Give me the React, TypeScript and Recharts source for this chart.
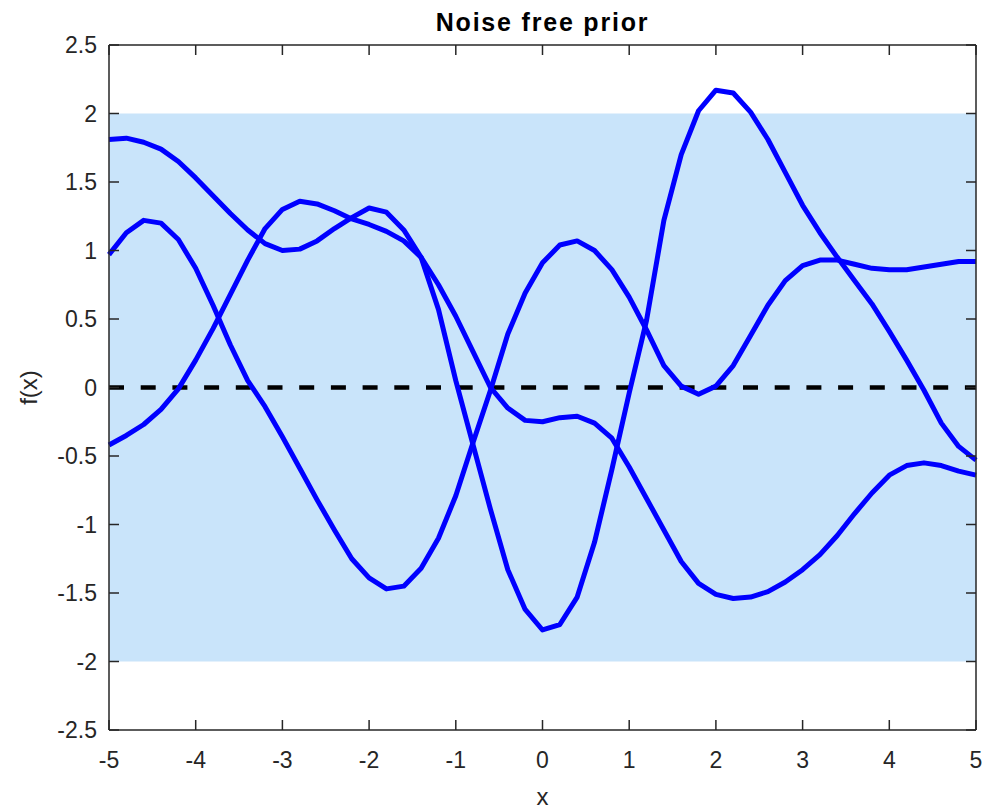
import React from 'react';
import { ComposedChart, Line, Area, XAxis, YAxis, Label } from 'recharts';

const xValues = [
  -5, -4.8, -4.6, -4.4, -4.2, -4, -3.8, -3.6, -3.4, -3.2,
  -3, -2.8, -2.6, -2.4, -2.2, -2, -1.8, -1.6, -1.4, -1.2,
  -1, -0.8, -0.6, -0.4, -0.2, 0, 0.2, 0.4, 0.6, 0.8,
  1, 1.2, 1.4, 1.6, 1.8, 2, 2.2, 2.4, 2.6, 2.8,
  3, 3.2, 3.4, 3.6, 3.8, 4, 4.2, 4.4, 4.6, 4.8, 5,
];

const sampleA = [
  1.81, 1.82, 1.79, 1.74, 1.65, 1.53, 1.40, 1.27, 1.15, 1.05,
  1.00, 1.01, 1.07, 1.16, 1.24, 1.31, 1.28, 1.15, 0.95, 0.57,
  0.05, -0.42, -0.89, -1.33, -1.62, -1.77, -1.73, -1.53, -1.13, -0.60,
  -0.04, 0.49, 1.22, 1.70, 2.02, 2.17, 2.15, 2.01, 1.81, 1.57,
  1.33, 1.13, 0.95, 0.78, 0.61, 0.41, 0.20, -0.02, -0.26, -0.43, -0.53,
];

const sampleB = [
  -0.42, -0.35, -0.27, -0.16, -0.01, 0.20, 0.43, 0.68, 0.93, 1.16,
  1.30, 1.36, 1.34, 1.29, 1.23, 1.19, 1.14, 1.07, 0.95, 0.75,
  0.52, 0.26, 0.00, -0.15, -0.24, -0.25, -0.22, -0.21, -0.26, -0.37,
  -0.58, -0.81, -1.04, -1.27, -1.43, -1.51, -1.54, -1.53, -1.49, -1.42,
  -1.33, -1.22, -1.08, -0.92, -0.77, -0.64, -0.57, -0.55, -0.57, -0.61, -0.64,
];

const sampleC = [
  0.97, 1.13, 1.22, 1.20, 1.08, 0.87, 0.60, 0.31, 0.05, -0.14,
  -0.36, -0.59, -0.82, -1.04, -1.25, -1.39, -1.47, -1.45, -1.32, -1.10,
  -0.79, -0.40, -0.02, 0.39, 0.69, 0.91, 1.04, 1.07, 1.00, 0.86,
  0.66, 0.42, 0.16, 0.01, -0.05, 0.01, 0.16, 0.38, 0.60, 0.78,
  0.89, 0.93, 0.93, 0.90, 0.87, 0.86, 0.86, 0.88, 0.90, 0.92, 0.92,
];

const meanX = [-5, 5];
const meanY = [0, 0];
const bandLower = [-2, -2];
const bandUpper = [2, 2];

const xTicks = [-5, -4, -3, -2, -1, 0, 1, 2, 3, 4, 5];
const yTicks = [-2.5, -2, -1.5, -1, -0.5, 0, 0.5, 1, 1.5, 2, 2.5];

const titleText = 'Noise free prior';
const xLabelText = 'x';
const yLabelText = 'f(x)';

const samplesData = xValues.map((x, i) => ({
  x,
  a: sampleA[i],
  b: sampleB[i],
  c: sampleC[i],
}));
const meanData = meanX.map((x, i) => ({ x, m: meanY[i], band: [bandLower[i], bandUpper[i]] }));

const FONT = '"Liberation Sans", Arial, Helvetica, sans-serif';
const AXIS = '#262626';
const TICK_LEN = 10;
const MARGIN = 20;

type Side = 'bottom' | 'top' | 'left' | 'right';

const makeTick = (side: Side, showLabel: boolean) => (props: any) => {
  const { x, y, payload } = props;
  let line: [number, number, number, number];
  let label: React.ReactNode = null;
  if (side === 'bottom') {
    const ay = y - MARGIN;
    line = [x, ay, x, ay - TICK_LEN];
    if (showLabel)
      label = (
        <text x={x} y={ay + 38} textAnchor="middle" style={{ fontFamily: FONT, fontSize: 23, fill: AXIS }}>
          {String(payload.value)}
        </text>
      );
  } else if (side === 'top') {
    const ay = y + MARGIN;
    line = [x, ay, x, ay + TICK_LEN];
  } else if (side === 'left') {
    const ax = x + MARGIN;
    line = [ax, y, ax + TICK_LEN, y];
    if (showLabel)
      label = (
        <text x={ax - 12} y={y + 8} textAnchor="end" style={{ fontFamily: FONT, fontSize: 23, fill: AXIS }}>
          {String(payload.value)}
        </text>
      );
  } else {
    const ax = x - MARGIN;
    line = [ax, y, ax - TICK_LEN, y];
  }
  return (
    <g>
      <line x1={line[0]} y1={line[1]} x2={line[2]} y2={line[3]} stroke={AXIS} strokeWidth={1.5} />
      {label}
    </g>
  );
};

export default function App() {
  return (
    <div style={{ position: 'absolute', left: 0, top: 0, width: 985, height: 812, background: '#fff' }}>
      <ComposedChart
        width={985}
        height={812}
        margin={{ top: 44, right: 8, left: 0, bottom: 0 }}
      >
        <Area
          xAxisId="b"
          yAxisId="l"
          data={meanData}
          dataKey="band"
          type="linear"
          stroke="none"
          fill="#C9E4FA"
          fillOpacity={1}
          isAnimationActive={false}
          dot={false}
          activeDot={false}
        />
        <Line
          xAxisId="t"
          yAxisId="r"
          data={meanData}
          dataKey="m"
          type="linear"
          stroke="none"
          strokeWidth={0}
          dot={false}
          activeDot={false}
          isAnimationActive={false}
        />
        <Line
          xAxisId="b"
          yAxisId="l"
          data={meanData}
          dataKey="m"
          type="linear"
          stroke="#000"
          strokeWidth={4.5}
          strokeDasharray="15 16.7"
          dot={false}
          activeDot={false}
          isAnimationActive={false}
        />
        {(['a', 'b', 'c'] as const).map((k) => (
          <Line
            key={k}
            xAxisId="b"
            yAxisId="l"
            data={samplesData}
            dataKey={k}
            type="linear"
            stroke="#0000FF"
            strokeWidth={5}
            strokeLinejoin="round"
            dot={false}
            activeDot={false}
            isAnimationActive={false}
          />
        ))}
        <XAxis
          xAxisId="b"
          dataKey="x"
          type="number"
          domain={[-5, 5]}
          ticks={xTicks}
          orientation="bottom"
          height={82}
          tickSize={0}
          tickLine={false}
          tickMargin={MARGIN}
          stroke={AXIS}
          strokeWidth={1.5}
          tick={makeTick('bottom', true)}
          interval={0}
        >
          <Label
            content={(props: any) => {
              const vb = props.viewBox || {};
              return (
                <text
                  x={vb.x + vb.width / 2}
                  y={vb.y + 75}
                  textAnchor="middle"
                  style={{ fontFamily: FONT, fontSize: 24, fill: AXIS }}
                >
                  {xLabelText}
                </text>
              );
            }}
          />
        </XAxis>
        <XAxis
          xAxisId="t"
          dataKey="x"
          type="number"
          domain={[-5, 5]}
          ticks={xTicks}
          orientation="top"
          height={1}
          tickSize={0}
          tickLine={false}
          tickMargin={MARGIN}
          stroke={AXIS}
          strokeWidth={1.5}
          tick={makeTick('top', false)}
          interval={0}
        >
          <Label
            content={(props: any) => {
              const vb = props.viewBox || {};
              return (
                <text
                  x={vb.x + vb.width / 2}
                  y={31}
                  textAnchor="middle"
                  style={{ fontFamily: FONT, fontSize: 25, fontWeight: 'bold', fill: '#000', letterSpacing: 1.8 }}
                >
                  {titleText}
                </text>
              );
            }}
          />
        </XAxis>
        <YAxis
          yAxisId="l"
          type="number"
          domain={[-2.5, 2.5]}
          ticks={yTicks}
          orientation="left"
          width={109}
          tickSize={0}
          tickLine={false}
          tickMargin={MARGIN}
          stroke={AXIS}
          strokeWidth={1.5}
          tick={makeTick('left', true)}
          interval={0}
        >
          <Label
            content={(props: any) => {
              const vb = props.viewBox || {};
              const cx = 37;
              const cy = vb.y + vb.height / 2;
              return (
                <text
                  x={cx}
                  y={cy}
                  textAnchor="middle"
                  transform={`rotate(-90 ${cx} ${cy})`}
                  style={{ fontFamily: FONT, fontSize: 24, fill: AXIS }}
                >
                  {yLabelText}
                </text>
              );
            }}
          />
        </YAxis>
        <YAxis
          yAxisId="r"
          type="number"
          domain={[-2.5, 2.5]}
          ticks={yTicks}
          orientation="right"
          width={1}
          tickSize={0}
          tickLine={false}
          tickMargin={MARGIN}
          stroke={AXIS}
          strokeWidth={1.5}
          tick={makeTick('right', false)}
          interval={0}
        />
      </ComposedChart>
    </div>
  );
}
